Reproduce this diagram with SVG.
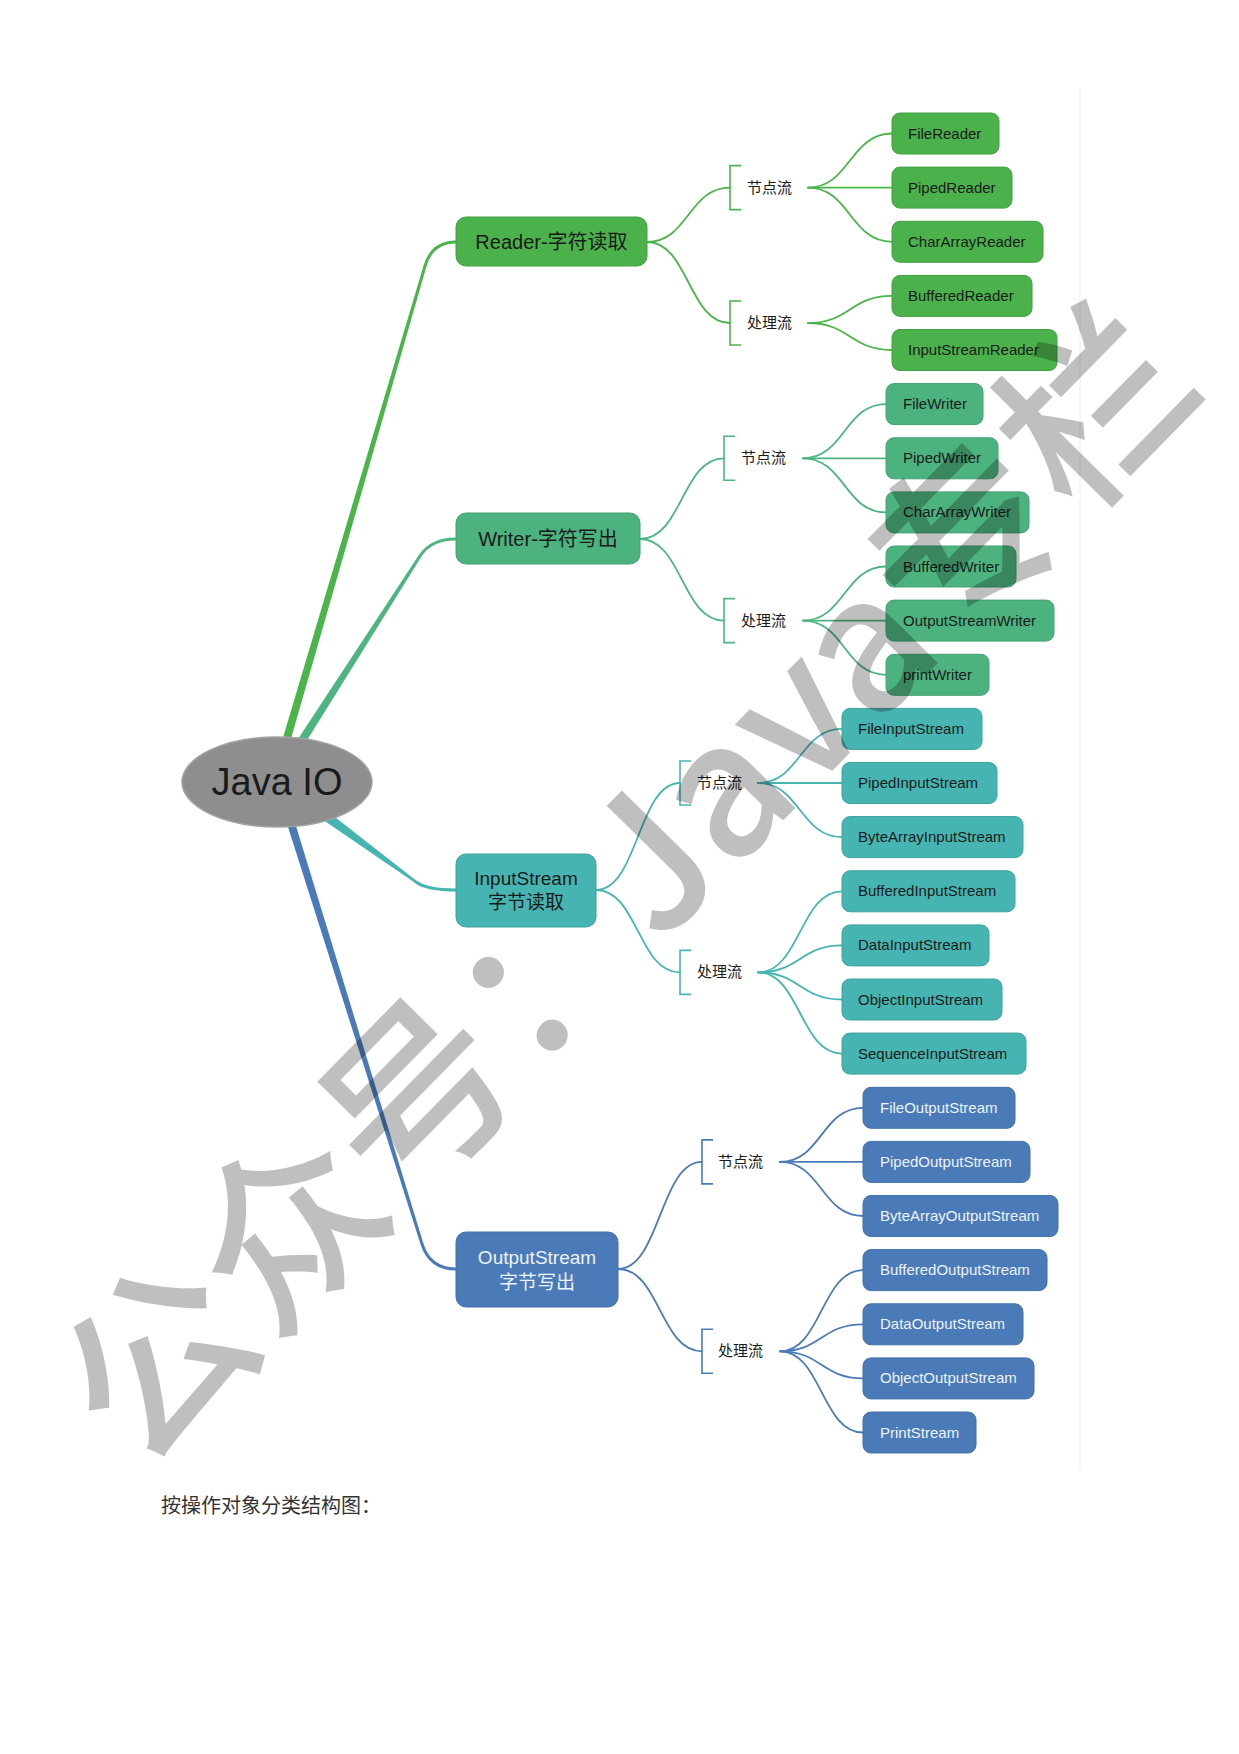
<svg xmlns="http://www.w3.org/2000/svg" width="1239" height="1754" viewBox="0 0 1239 1754">
<style>
.lat{font-family:"Liberation Sans","Noto Sans CJK SC",sans-serif}
.cjk{font-family:"Noto Sans CJK SC",sans-serif}
.leaf{font-size:15px;fill:#1b1b1b}
.leafw{font-size:15px;fill:#eef3fa}
.bl{font-size:15px;fill:#1b1b1b}
.g1{fill:#4bb14b;stroke:#42a042;stroke-width:1}
.g2{fill:#4cb37f;stroke:#43a271;stroke-width:1}
.g3{fill:#46b4b1;stroke:#3ea29f;stroke-width:1}
.g4{fill:#4a7bb8;stroke:#4270a8;stroke-width:1}
.c1{stroke:#4bb44b}
.c2{stroke:#4db580}
.c3{stroke:#46b5b2}
.c4{stroke:#4a7bb8}
.f1{fill:#4bb44b}
.f2{fill:#4db580}
.f3{fill:#46b5b2}
.f4{fill:#4a7bb8}
.ln{fill:none;stroke-width:1.8;stroke-linecap:round}
.mn{fill:none;stroke-width:3;stroke-linecap:round}
.br{fill:none;stroke-width:1.6}
</style>
<rect width="1239" height="1754" fill="#ffffff"/>
<line x1="1080" y1="89" x2="1080" y2="1470" stroke="#ececec" stroke-width="1"/>
<g id="connectors">
<polygon class="f1" points="288.9,746 426.4,266.4 423.6,265.6 281.1,744"/>
<path class="mn c1" d="M425,266 Q432,242 456,242"/>
<polygon class="f2" points="304.5,744.3 421.3,556.8 418.7,555.2 297.5,739.7"/>
<path class="mn c2" d="M420,556 Q431,539 456,539"/>
<polygon class="f3" points="317.7,816.3 415.3,883 416.7,881 324.3,808.7"/>
<path class="mn c3" d="M416,882 Q427,890 456,890"/>
<polygon class="f4" points="286.2,821.2 420.6,1244.4 423.4,1243.6 293.8,818.8"/>
<path class="mn c4" d="M422,1244 Q430,1269 456,1269"/>
<g class="ln c1">
<path d="M647,242 C688.5,242 688.5,187.6 730,187.6"/>
<path d="M647,242 C688.5,242 688.5,323 730,323"/>
<path d="M808,187.6 C850,187.6 850,133.5 892,133.5"/>
<path d="M808,187.6 L892,187.6"/>
<path d="M808,187.6 C850,187.6 850,241.8 892,241.8"/>
<path d="M808,323 C850,323 850,295.9 892,295.9"/>
<path d="M808,323 C850,323 850,350 892,350"/>
</g>
<g class="ln c2">
<path d="M640,539 C682,539 682,458.3 724,458.3"/>
<path d="M640,539 C682,539 682,620.6 724,620.6"/>
<path d="M803,458.3 C844.5,458.3 844.5,404.1 886,404.1"/>
<path d="M803,458.3 L886,458.3"/>
<path d="M803,458.3 C844.5,458.3 844.5,512.4 886,512.4"/>
<path d="M803,620.6 C844.5,620.6 844.5,566.5 886,566.5"/>
<path d="M803,620.6 L886,620.6"/>
<path d="M803,620.6 C844.5,620.6 844.5,674.8 886,674.8"/>
</g>
<g class="ln c3">
<path d="M596,890 C638,890 638,783 680,783"/>
<path d="M596,890 C638,890 638,972.4 680,972.4"/>
<path d="M758,783 C800,783 800,728.9 842,728.9"/>
<path d="M758,783 L842,783"/>
<path d="M758,783 C800,783 800,837.1 842,837.1"/>
<path d="M758,972.4 C800,972.4 800,891.3 842,891.3"/>
<path d="M758,972.4 C800,972.4 800,945.4 842,945.4"/>
<path d="M758,972.4 C800,972.4 800,999.5 842,999.5"/>
<path d="M758,972.4 C800,972.4 800,1053.6 842,1053.6"/>
</g>
<g class="ln c4">
<path d="M618,1269 C660,1269 660,1161.9 702,1161.9"/>
<path d="M618,1269 C660,1269 660,1351.3 702,1351.3"/>
<path d="M780,1161.9 C821.5,1161.9 821.5,1107.8 863,1107.8"/>
<path d="M780,1161.9 L863,1161.9"/>
<path d="M780,1161.9 C821.5,1161.9 821.5,1216 863,1216"/>
<path d="M780,1351.3 C821.5,1351.3 821.5,1270.1 863,1270.1"/>
<path d="M780,1351.3 C821.5,1351.3 821.5,1324.3 863,1324.3"/>
<path d="M780,1351.3 C821.5,1351.3 821.5,1378.4 863,1378.4"/>
<path d="M780,1351.3 C821.5,1351.3 821.5,1432.5 863,1432.5"/>
</g>
</g>
<g id="root">
<ellipse cx="277" cy="782" rx="95" ry="45" fill="#8e8e8e" stroke="#a3a3a3" stroke-width="1.5"/>
<text class="lat" x="277" y="795" font-size="38" fill="#1a1a1a" text-anchor="middle">Java IO</text>
</g>
<g id="reader">
<rect class="g1" x="456" y="217" width="191" height="49" rx="10"/>
<text class="lat" x="551.5" y="249" font-size="20" fill="#1a1a1a" text-anchor="middle">Reader-字符读取</text>
</g>
<g id="writer">
<rect class="g2" x="456" y="513" width="184" height="51" rx="10"/>
<text class="lat" x="548" y="546" font-size="20" fill="#1a1a1a" text-anchor="middle">Writer-字符写出</text>
</g>
<g id="inputstream">
<rect class="g3" x="456" y="854" width="140" height="73" rx="10"/>
<text class="lat" x="526" y="885" font-size="19" fill="#1a1a1a" text-anchor="middle">InputStream</text>
<text class="lat" x="526" y="909" font-size="19" fill="#1a1a1a" text-anchor="middle">字节读取</text>
</g>
<g id="outputstream">
<rect class="g4" x="456" y="1232" width="162" height="75" rx="10"/>
<text class="lat" x="537" y="1264" font-size="19" fill="#eef3fa" text-anchor="middle">OutputStream</text>
<text class="lat" x="537" y="1289" font-size="19" fill="#eef3fa" text-anchor="middle">字节写出</text>
</g>
<g id="reader-node" class="br c1"><path d="M741,165.6 H730 V209.6 H741"/></g>
<g id="reader-node-label"><text class="cjk bl" x="747" y="192.6">节点流</text></g>
<g id="reader-proc" class="br c1"><path d="M741,301 H730 V345 H741"/></g>
<g id="reader-proc-label"><text class="cjk bl" x="747" y="328">处理流</text></g>
<g id="writer-node" class="br c2"><path d="M735,436.3 H724 V480.3 H735"/></g>
<g id="writer-node-label"><text class="cjk bl" x="741" y="463.3">节点流</text></g>
<g id="writer-proc" class="br c2"><path d="M735,598.6 H724 V642.6 H735"/></g>
<g id="writer-proc-label"><text class="cjk bl" x="741" y="625.6">处理流</text></g>
<g id="input-node" class="br c3"><path d="M691,761 H680 V805 H691"/></g>
<g id="input-node-label"><text class="cjk bl" x="697" y="788">节点流</text></g>
<g id="input-proc" class="br c3"><path d="M691,950.4 H680 V994.4 H691"/></g>
<g id="input-proc-label"><text class="cjk bl" x="697" y="977.4">处理流</text></g>
<g id="output-node" class="br c4"><path d="M713,1139.9 H702 V1183.9 H713"/></g>
<g id="output-node-label"><text class="cjk bl" x="718" y="1166.9">节点流</text></g>
<g id="output-proc" class="br c4"><path d="M713,1329.3 H702 V1373.3 H713"/></g>
<g id="output-proc-label"><text class="cjk bl" x="718" y="1356.3">处理流</text></g>
<g id="FileReader"><rect class="g1" x="892" y="113" width="107" height="41" rx="8"/><text class="lat leaf" x="908" y="138.5">FileReader</text></g>
<g id="PipedReader"><rect class="g1" x="892" y="167.1" width="120" height="41" rx="8"/><text class="lat leaf" x="908" y="192.6">PipedReader</text></g>
<g id="CharArrayReader"><rect class="g1" x="892" y="221.3" width="151" height="41" rx="8"/><text class="lat leaf" x="908" y="246.8">CharArrayReader</text></g>
<g id="BufferedReader"><rect class="g1" x="892" y="275.4" width="140" height="41" rx="8"/><text class="lat leaf" x="908" y="300.9">BufferedReader</text></g>
<g id="InputStreamReader"><rect class="g1" x="892" y="329.5" width="165" height="41" rx="8"/><text class="lat leaf" x="908" y="355">InputStreamReader</text></g>
<g id="FileWriter"><rect class="g2" x="886" y="383.6" width="97" height="41" rx="8"/><text class="lat leaf" x="903" y="409.1">FileWriter</text></g>
<g id="PipedWriter"><rect class="g2" x="886" y="437.8" width="112" height="41" rx="8"/><text class="lat leaf" x="903" y="463.3">PipedWriter</text></g>
<g id="CharArrayWriter"><rect class="g2" x="886" y="491.9" width="143" height="41" rx="8"/><text class="lat leaf" x="903" y="517.4">CharArrayWriter</text></g>
<g id="BufferedWriter"><rect class="g2" x="886" y="546" width="130" height="41" rx="8"/><text class="lat leaf" x="903" y="571.5">BufferedWriter</text></g>
<g id="OutputStreamWriter"><rect class="g2" x="886" y="600.1" width="168" height="41" rx="8"/><text class="lat leaf" x="903" y="625.6">OutputStreamWriter</text></g>
<g id="printWriter"><rect class="g2" x="886" y="654.3" width="103" height="41" rx="8"/><text class="lat leaf" x="903" y="679.8">printWriter</text></g>
<g id="FileInputStream"><rect class="g3" x="842" y="708.4" width="140" height="41" rx="8"/><text class="lat leaf" x="858" y="733.9">FileInputStream</text></g>
<g id="PipedInputStream"><rect class="g3" x="842" y="762.5" width="155" height="41" rx="8"/><text class="lat leaf" x="858" y="788">PipedInputStream</text></g>
<g id="ByteArrayInputStream"><rect class="g3" x="842" y="816.6" width="181" height="41" rx="8"/><text class="lat leaf" x="858" y="842.1">ByteArrayInputStream</text></g>
<g id="BufferedInputStream"><rect class="g3" x="842" y="870.8" width="173" height="41" rx="8"/><text class="lat leaf" x="858" y="896.3">BufferedInputStream</text></g>
<g id="DataInputStream"><rect class="g3" x="842" y="924.9" width="147" height="41" rx="8"/><text class="lat leaf" x="858" y="950.4">DataInputStream</text></g>
<g id="ObjectInputStream"><rect class="g3" x="842" y="979" width="160" height="41" rx="8"/><text class="lat leaf" x="858" y="1004.5">ObjectInputStream</text></g>
<g id="SequenceInputStream"><rect class="g3" x="842" y="1033.1" width="184" height="41" rx="8"/><text class="lat leaf" x="858" y="1058.6">SequenceInputStream</text></g>
<g id="FileOutputStream"><rect class="g4" x="863" y="1087.3" width="152" height="41" rx="8"/><text class="lat leafw" x="880" y="1112.8">FileOutputStream</text></g>
<g id="PipedOutputStream"><rect class="g4" x="863" y="1141.4" width="167" height="41" rx="8"/><text class="lat leafw" x="880" y="1166.9">PipedOutputStream</text></g>
<g id="ByteArrayOutputStream"><rect class="g4" x="863" y="1195.5" width="195" height="41" rx="8"/><text class="lat leafw" x="880" y="1221">ByteArrayOutputStream</text></g>
<g id="BufferedOutputStream"><rect class="g4" x="863" y="1249.6" width="184" height="41" rx="8"/><text class="lat leafw" x="880" y="1275.1">BufferedOutputStream</text></g>
<g id="DataOutputStream"><rect class="g4" x="863" y="1303.8" width="160" height="41" rx="8"/><text class="lat leafw" x="880" y="1329.3">DataOutputStream</text></g>
<g id="ObjectOutputStream"><rect class="g4" x="863" y="1357.9" width="171" height="41" rx="8"/><text class="lat leafw" x="880" y="1383.4">ObjectOutputStream</text></g>
<g id="PrintStream"><rect class="g4" x="863" y="1412" width="113" height="41" rx="8"/><text class="lat leafw" x="880" y="1437.5">PrintStream</text></g>
<text class="cjk" x="161" y="1513" font-size="20" fill="#333333">按操作对象分类结构图：</text>
<text class="cjk" x="141" y="1474" font-size="185" font-weight="500" fill="#000000" fill-opacity="0.25" transform="rotate(-45.5 141 1474)">公众号：Java专栏</text>
</svg>
